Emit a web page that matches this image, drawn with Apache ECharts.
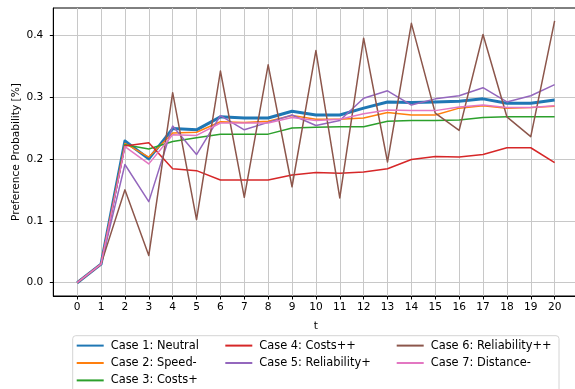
<!DOCTYPE html>
<html>
<head>
<meta charset="utf-8">
<script src="https://cdn.jsdelivr.net/npm/echarts@6/dist/echarts.min.js"></script>
<style>
  html, body { margin: 0; padding: 0; background: #fff; }
  #chart { width: 575px; height: 389px; }
</style>
</head>
<body>
<div id="chart"></div>
<script>
// Time steps on the x axis
const steps = [0, 1, 2, 3, 4, 5, 6, 7, 8, 9, 10, 11, 12, 13, 14, 15, 16, 17, 18, 19, 20];
const yTicks = [0, 0.1, 0.2, 0.3, 0.4];

const caseNames = [
  'Case 1: Neutral', 'Case 2: Speed-', 'Case 3: Costs+', 'Case 4: Costs++',
  'Case 5: Reliability+', 'Case 6: Reliability++', 'Case 7: Distance-'
];

// Preference probability per case over time
const neutral = [0, 0.03, 0.229, 0.200, 0.249, 0.247, 0.268, 0.266, 0.266, 0.277, 0.271, 0.271, 0.282, 0.292, 0.291, 0.292, 0.293, 0.297, 0.290, 0.290, 0.295];
const speedMinus = [0, 0.03, 0.225, 0.203, 0.242, 0.243, 0.260, 0.259, 0.261, 0.270, 0.264, 0.264, 0.266, 0.275, 0.271, 0.271, 0.282, 0.286, 0.282, 0.283, 0.285];
const costsPlus = [0, 0.03, 0.223, 0.216, 0.228, 0.234, 0.240, 0.240, 0.240, 0.250, 0.251, 0.252, 0.252, 0.261, 0.262, 0.262, 0.263, 0.267, 0.268, 0.268, 0.268];
const costsPlusPlus = [0, 0.03, 0.221, 0.226, 0.184, 0.181, 0.166, 0.166, 0.166, 0.174, 0.178, 0.177, 0.179, 0.184, 0.199, 0.204, 0.203, 0.207, 0.218, 0.218, 0.194];
const reliabilityPlus = [0, 0.03, 0.191, 0.131, 0.253, 0.207, 0.270, 0.247, 0.259, 0.271, 0.254, 0.262, 0.298, 0.310, 0.287, 0.297, 0.302, 0.315, 0.292, 0.302, 0.320];
const reliabilityPlusPlus = [0, 0.03, 0.150, 0.044, 0.307, 0.102, 0.342, 0.138, 0.352, 0.155, 0.375, 0.137, 0.395, 0.195, 0.419, 0.274, 0.246, 0.401, 0.268, 0.236, 0.423];
const distanceMinus = [0, 0.03, 0.220, 0.192, 0.239, 0.238, 0.258, 0.258, 0.258, 0.267, 0.262, 0.264, 0.273, 0.279, 0.278, 0.278, 0.284, 0.287, 0.283, 0.283, 0.286];

const seriesValues = [neutral, speedMinus, costsPlus, costsPlusPlus, reliabilityPlus, reliabilityPlusPlus, distanceMinus];
const colors = ['#1f77b4', '#ff7f0e', '#2ca02c', '#d62728', '#9467bd', '#8c564b', '#e377c2'];
const widths = [3, 1.5, 1.5, 1.5, 1.5, 1.5, 1.5];

const FONT = 'DejaVu Sans';
const chart = echarts.init(document.getElementById('chart'), null, { renderer: 'canvas' });

const series = seriesValues.map((vals, i) => ({
  name: caseNames[i],
  type: 'line',
  data: steps.map((t, j) => [t, vals[j]]),
  showSymbol: false,
  symbol: 'none',
  animation: false,
  lineStyle: { color: colors[i], width: widths[i], join: 'round', cap: 'butt' },
  itemStyle: { color: colors[i] },
  emphasis: { disabled: true }
}));

const legendBase = {
  orient: 'vertical',
  top: 340,
  padding: 0,
  itemWidth: 27,
  itemHeight: 14,
  itemGap: 6.2,
  selectedMode: false,
  itemStyle: { opacity: 0 },
  textStyle: { fontFamily: FONT, fontSize: 11.4, color: '#000', padding: [0, 0, 0, 2] }
};

chart.setOption({
  animation: false,
  color: colors,
  grid: {
    left: 53.3, top: 8, width: 525.2, height: 288,
    outerBoundsMode: 'none', containLabel: false,
    show: true, borderColor: '#000', borderWidth: 1, backgroundColor: 'transparent'
  },
  xAxis: {
    type: 'value', min: -1, max: 21,
    name: 't', nameLocation: 'middle', nameGap: 25, nameMoveOverlap: false,
    nameTextStyle: { fontFamily: FONT, fontSize: 10.6, color: '#000' },
    axisLine: { show: true, onZero: false, lineStyle: { color: '#000', width: 1 } },
    axisTick: { show: true, length: 3.5, customValues: steps, lineStyle: { color: '#000', width: 1 } },
    axisLabel: { customValues: steps, margin: 6, fontFamily: FONT, fontSize: 10.6, color: '#000' },
    splitLine: { show: true, lineStyle: { color: '#c8c8c8', width: 1 } }
  },
  yAxis: {
    type: 'value', min: -0.0215, max: 0.4438,
    name: 'Preference Probability [%]', nameLocation: 'middle', nameGap: 32, nameMoveOverlap: false,
    nameTextStyle: { fontFamily: FONT, fontSize: 10.6, color: '#000' },
    axisLine: { show: true, onZero: false, lineStyle: { color: '#000', width: 1 } },
    axisTick: { show: true, length: 3.5, customValues: yTicks, lineStyle: { color: '#000', width: 1 } },
    axisLabel: { customValues: yTicks, margin: 10, fontFamily: FONT, fontSize: 10.6, color: '#000',
      formatter: v => v.toFixed(1) },
    splitLine: { show: true, lineStyle: { color: '#c8c8c8', width: 1 } }
  },
  legend: [
    Object.assign({}, legendBase, { left: 75.7, data: caseNames.slice(0, 3) }),
    Object.assign({}, legendBase, { left: 224.3, data: caseNames.slice(3, 5) }),
    Object.assign({}, legendBase, { left: 395.7, data: caseNames.slice(5, 7) })
  ],
  graphic: [{
    type: 'rect', z: -1, silent: true,
    shape: { x: 72.7, y: 335.7, width: 486.3, height: 70, r: 3 },
    style: { fill: '#fff', stroke: '#d4d4d4', lineWidth: 1 }
  }],
  series: series
});
</script>
</body>
</html>
